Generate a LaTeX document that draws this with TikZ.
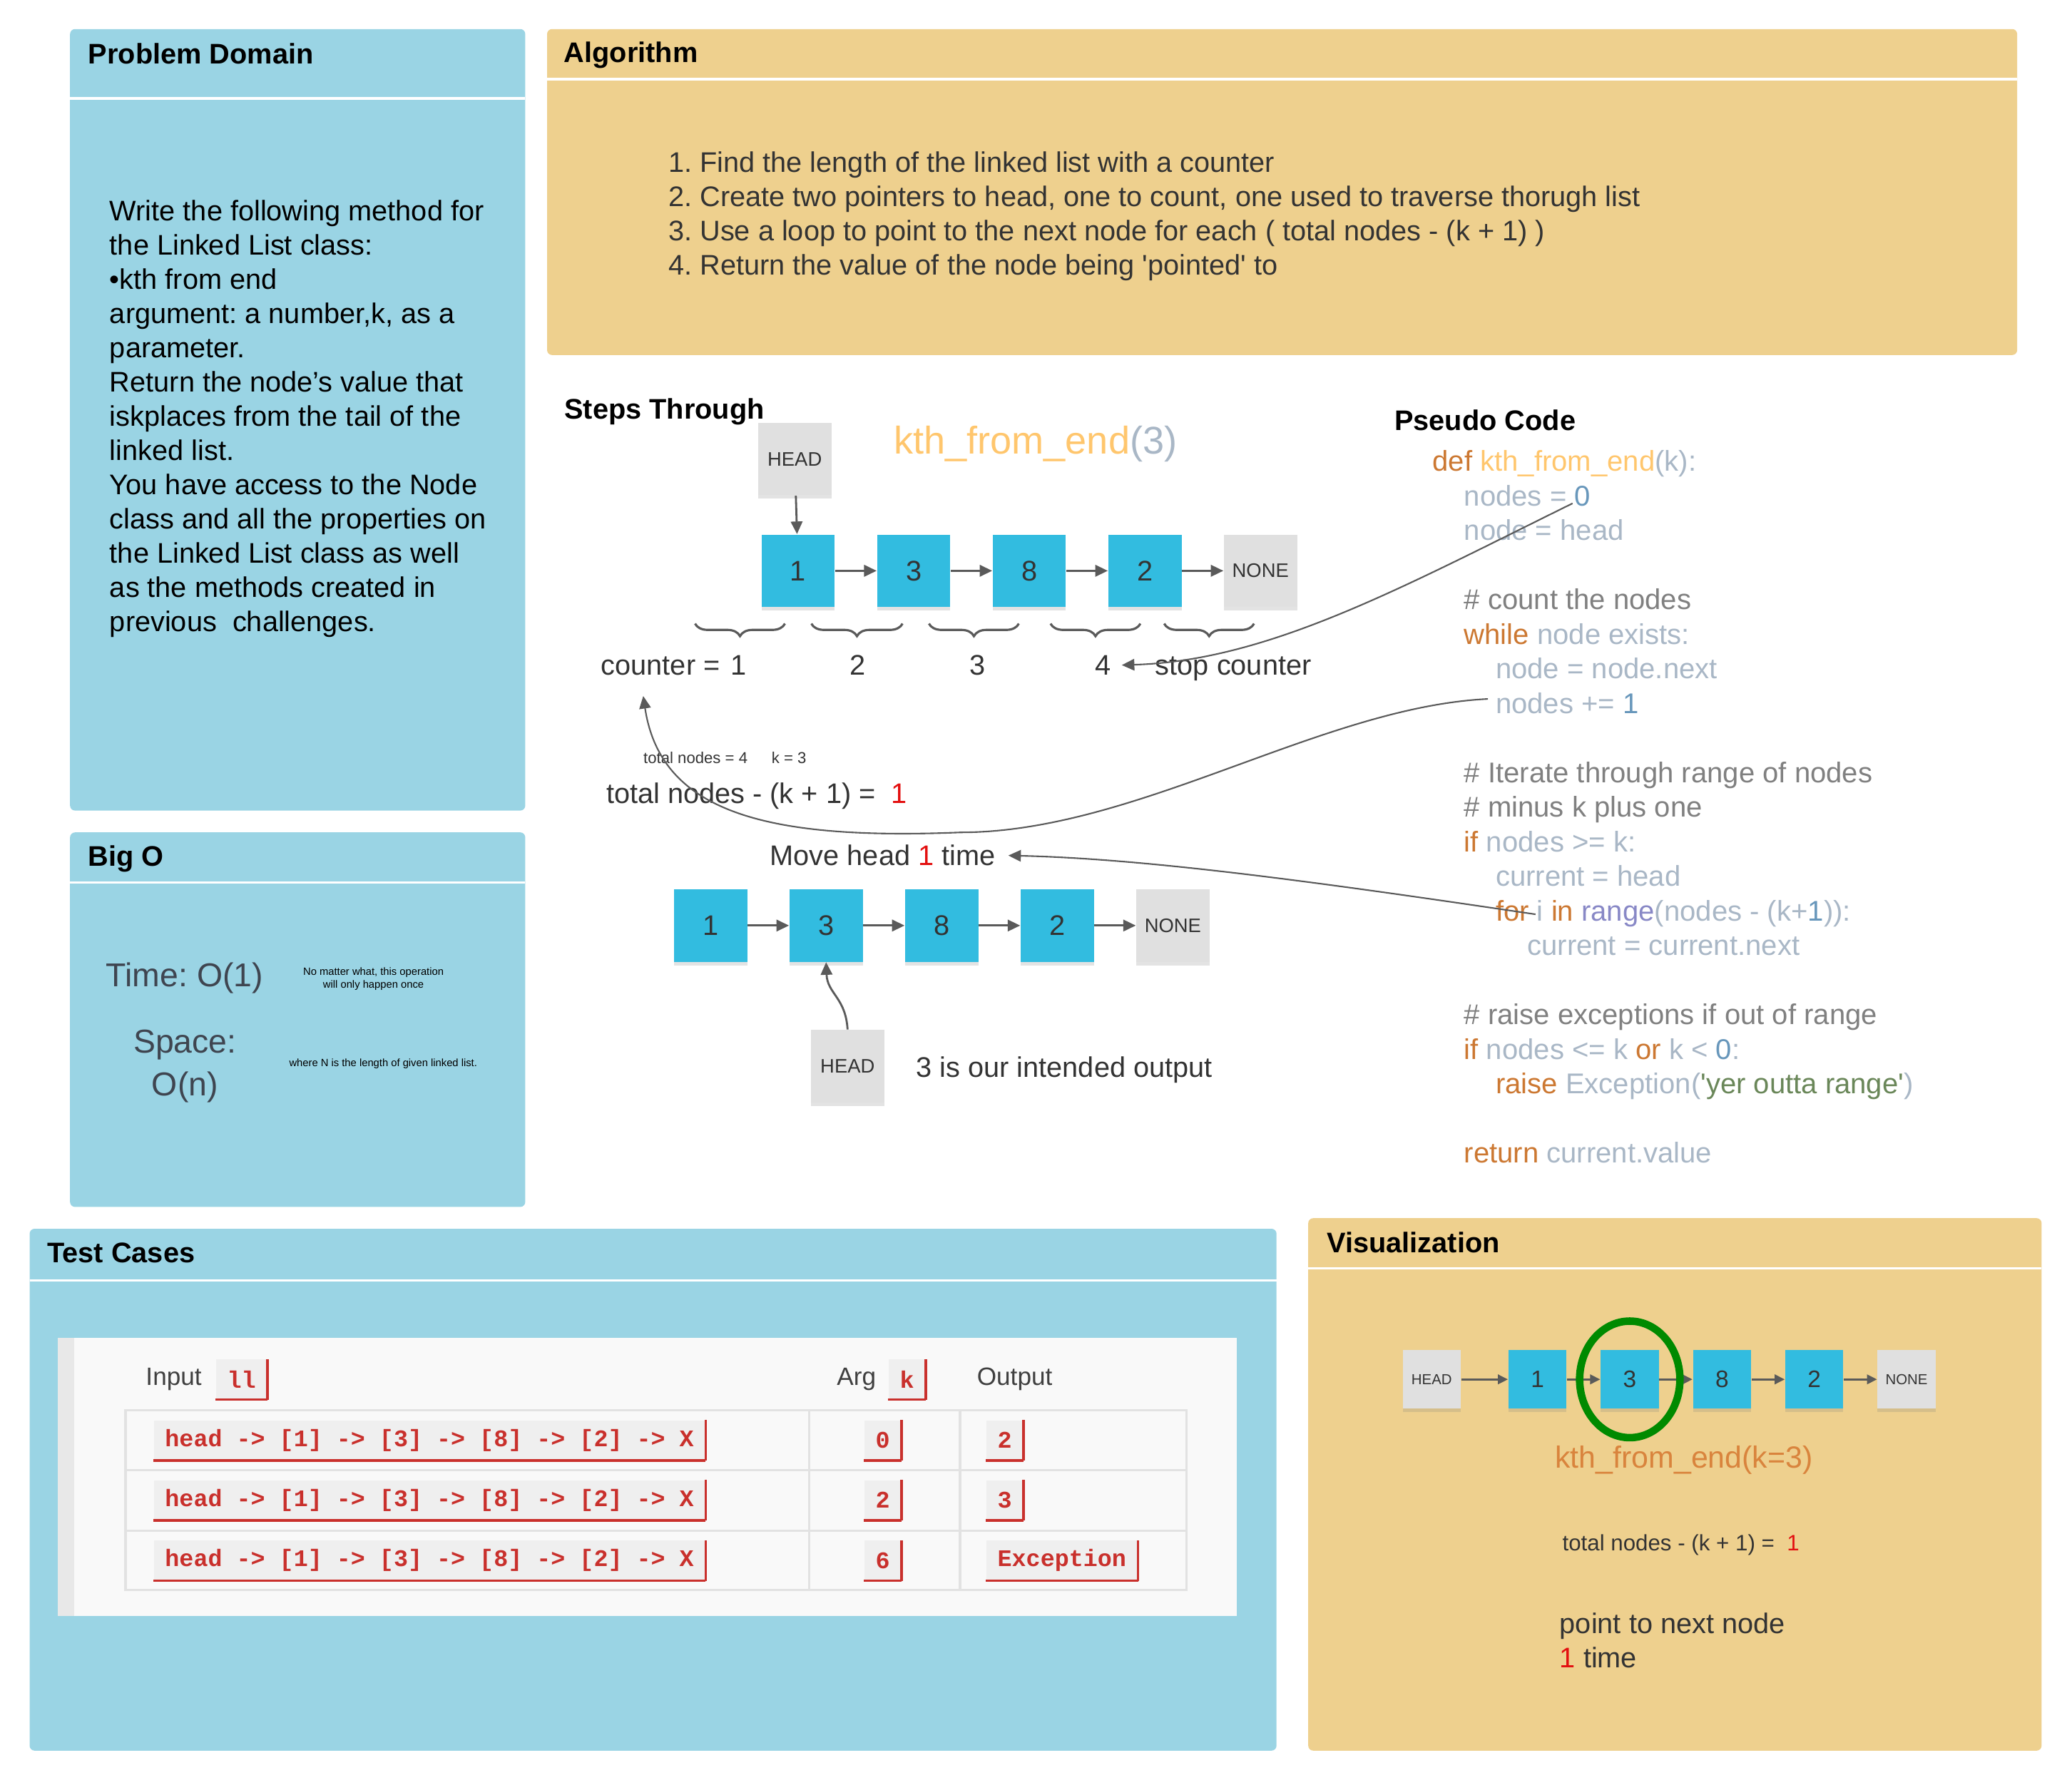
\documentclass[tikz,border=0pt]{standalone}
\usepackage{fontspec}
\setmainfont{Liberation Sans}
\setmonofont{Liberation Mono}
\usetikzlibrary{arrows.meta,positioning,shadows,shapes.geometric,decorations.pathreplacing}

\definecolor{panelblue}{HTML}{9AD4E4}
\definecolor{panelsand}{HTML}{EED08E}
\definecolor{listcyan}{HTML}{32BCE0}
\definecolor{boxgray}{HTML}{E0E0E0}
\definecolor{inkdark}{HTML}{333333}
\definecolor{slateink}{HTML}{3F4550}
\definecolor{wireg}{HTML}{5A5A5A}
\definecolor{alarmred}{HTML}{E31010}
\definecolor{pykw}{HTML}{CC7832}
\definecolor{pyfn}{HTML}{FFC66D}
\definecolor{pyid}{HTML}{A9B7C6}
\definecolor{pynum}{HTML}{6897BB}
\definecolor{pycmt}{HTML}{808080}
\definecolor{pystr}{HTML}{6A8759}
\definecolor{pybuiltin}{HTML}{8888C6}
\definecolor{codered}{HTML}{C9302C}
\definecolor{codebg}{HTML}{EFEFEF}
\definecolor{tablebg}{HTML}{F9F9F9}
\definecolor{gridgray}{HTML}{E2E2E2}
\definecolor{vizorange}{HTML}{D9843D}
\definecolor{ringgreen}{HTML}{008A00}

\newcommand{\setfs}[2]{\fontsize{#1}{#2}\selectfont}
\newcommand{\pkw}[1]{\textcolor{pykw}{#1}}
\newcommand{\pfn}[1]{\textcolor{pyfn}{#1}}
\newcommand{\pid}[1]{\textcolor{pyid}{#1}}
\newcommand{\pnum}[1]{\textcolor{pynum}{#1}}
\newcommand{\pcmt}[1]{\textcolor{pycmt}{#1}}
\newcommand{\pstr}[1]{\textcolor{pystr}{#1}}
\newcommand{\pbi}[1]{\textcolor{pybuiltin}{#1}}
\newcommand{\pind}{\hspace*{12.6pt}}
\frenchspacing

\begin{document}
\begin{tikzpicture}[x=0.018527cm,y=-0.018527cm,on grid,node distance=46.1pt,
every node/.style={inner sep=0pt,text=inkdark},
listcell/.style={fill=listcyan,minimum width=29.2pt,minimum height=28.9pt,font=\setfs{11.3}{13},
                 drop shadow={shadow xshift=0pt,shadow yshift=-1.4pt,opacity=.22}},
stubcell/.style={listcell,fill=boxgray,font=\setfs{7.8}{9}},
vizcell/.style={listcell,minimum width=23.2pt,minimum height=23.2pt,font=\setfs{9.5}{11}},
vizstub/.style={vizcell,fill=boxgray,font=\setfs{5.8}{7}},
heading/.style={anchor=base west,text=black,font=\setfs{11.3}{13}\bfseries},
prose/.style={anchor=west,font=\setfs{11.3}{13.7}},
chip/.style={fill=codebg,text=codered,inner xsep=4.5pt,minimum height=15.8pt,
             font=\setfs{9.5}{11}\ttfamily\bfseries,
             append after command={(\tikzlastnode.south west) edge[chipedge] (\tikzlastnode.south east)
                                   (\tikzlastnode.south east) edge[chipedge] (\tikzlastnode.north east)}},
chipedge/.style={draw=codered,line width=1pt},
ring/.style={ellipse,draw=ringgreen,line width=3pt,minimum width=40pt,minimum height=46.5pt}]

\tikzset{link/.style={draw=wireg,line width=.8pt,-{Triangle[length=5pt,width=4.6pt]}},
         vlink/.style={link,-{Triangle[length=4pt,width=3.8pt]}},
         wire/.style={draw=wireg,line width=.6pt,-{Triangle[length=5pt,width=4.6pt]}},
         bracket/.style={draw=wireg,line width=.9pt,decorate,decoration={brace,mirror,amplitude=5pt}},
         board/.style={rounded corners=2pt},
         rule/.style={white,line width=1pt},
         gridline/.style={draw=gridgray,line width=.9pt}}

\useasboundingbox (0,0) rectangle (1568,1347);

\fill[panelblue,board] (53,22) rectangle (397.5,613.5);
\draw[rule] (53,74.4) -- (397.5,74.4);
\fill[panelsand,board] (414,22) rectangle (1526.5,268.7);
\draw[rule] (414,60) -- (1526.5,60);
\fill[panelblue,board] (53,630) rectangle (397.5,913.5);
\draw[rule] (53,668) -- (397.5,668);
\fill[panelblue,board] (22.4,930) rectangle (966,1325);
\draw[rule] (22.4,969) -- (966,969);
\fill[panelsand,board] (990,922) rectangle (1545,1325);
\draw[rule] (990,960) -- (1545,960);

\node[heading] (pdtitle) at (66.5,48.2) {Problem Domain};
\node[heading] (algtitle) at (426.5,47.2) {Algorithm};
\node[heading] (bigtitle) at (66.5,655.4) {Big O};
\node[heading] (testtitle) at (35.5,955.8) {Test Cases};
\node[heading] (viztitle) at (1003.9,947.9) {Visualization};
\node[heading] (steptitle) at (426.8,317) {Steps Through};
\node[heading] (codetitle) at (1055,326) {Pseudo Code};

\node[prose,anchor=north west,align=left,text=black,font=\setfs{11.3}{13.65}] (pdtext) at (82.7,151)
  {Write the following method for\\the Linked List class:\\•kth from end\\argument: a number,k, as a\\parameter.\\Return the node’s value that\\iskplaces from the tail of the\\linked list.\\You have access to the Node\\class and all the properties on\\the Linked List class as well\\as the methods created in\\previous\ \ challenges.};

\node[prose,anchor=north west,align=left] (algtext) at (505.5,114.3)
  {1. Find the length of the linked list with a counter\\2. Create two pointers to head, one to count, one used to traverse thorugh list\\3. Use a loop to point to the next node for each ( total nodes - (k + 1) )\\4. Return the value of the node being \textquotesingle pointed\textquotesingle\ to};

\node[anchor=west,font=\setfs{13.2}{16},text=slateink] (timecost) at (80,740) {Time: O(1)};
\node[align=center,font=\setfs{4.2}{5.3},text=black] (timenote) at (282.6,741) {No matter what, this operation\\will only happen once};
\node[align=center,font=\setfs{13.2}{16.9},text=slateink] (spacecost) at (140,807) {Space:\\O(n)};
\node[font=\setfs{4.2}{5.3},text=black] (spacenote) at (290,805) {where N is the length of given linked list.};

\node[stubcell] (h1) at (601.4,347.4) {HEAD};
\node[anchor=west,font=\setfs{15.4}{18}] (callsig) at (676,335.8) {\textcolor{pyfn}{kth\_from\_end}\textcolor{pyid}{(3)}};
\node[listcell] (a1) at (604,432) {1};
\node[listcell,right=of a1] (a3) {3};
\node[listcell,right=of a3] (a8) {8};
\node[listcell,right=of a8] (a2) {2};
\node[stubcell,right=of a2] (anone) {NONE};
\draw[link] (h1) -- (a1);
\draw[link] (a1) -- (a3);
\draw[link] (a3) -- (a8);
\draw[link] (a8) -- (a2);
\draw[link] (a2) -- (anone);

\draw[bracket] (526,472) -- (594,472);
\draw[bracket] (614,472) -- (683,472);
\draw[bracket] (703,472) -- (771,472);
\draw[bracket] (795,472) -- (863,472);
\draw[bracket] (881,472) -- (949,472);

\node[prose,anchor=base west] (cnt) at (454.5,511) {counter =};
\node[prose,anchor=base] (cnt1) at (559,511) {1};
\node[prose,anchor=base] (cnt2) at (649,511) {2};
\node[prose,anchor=base] (cnt3) at (739.6,511) {3};
\node[prose,anchor=base] (cnt4) at (835,511) {4};
\node[prose,anchor=base west] (stopcnt) at (874,511) {stop counter};

\node[anchor=west,font=\setfs{6.3}{7.5}] (tally) at (486.6,573.7) {total nodes = 4\hspace{9.6pt}k = 3};
\node[prose] (formula) at (458.5,602.3) {total nodes - (k + 1) =\ \ \textcolor{alarmred}{1}};
\node[prose] (movehead) at (582.4,647.5) {Move head \textcolor{alarmred}{1} time};

\node[listcell] (b1) at (537.7,700.5) {1};
\node[listcell,right=of b1] (b3) {3};
\node[listcell,right=of b3] (b8) {8};
\node[listcell,right=of b8] (b2) {2};
\node[stubcell,right=of b2] (bnone) {NONE};
\node[stubcell] (h2) at (641.4,807) {HEAD};
\node[prose] (outcome) at (693,810) {3 is our intended output};
\draw[link] (b1) -- (b3);
\draw[link] (b3) -- (b8);
\draw[link] (b8) -- (b2);
\draw[link] (b2) -- (bnone);
\draw[link] (h2.north) .. controls (640,755) and (626,752) .. (b3.south);

\node[anchor=north west,align=left,font=\setfs{11.4}{13.8},text=pyid] (pseudo) at (1083.7,340.6)
  {\pkw{def} \pfn{kth\_from\_end}\pid{(k):}\\
   \pind\pid{nodes = }\pnum{0}\\
   \pind\pid{node = head}\\[13.8pt]
   \pind\pcmt{\# count the nodes}\\
   \pind\pkw{while} \pid{node exists:}\\
   \pind\pind\pid{node = node.next}\\
   \pind\pind\pid{nodes += }\pnum{1}\\[13.8pt]
   \pind\pcmt{\# Iterate through range of nodes}\\
   \pind\pcmt{\# minus k plus one}\\
   \pind\pkw{if} \pid{nodes >= k:}\\
   \pind\pind\pid{current = head}\\
   \pind\pind\pkw{for} \pid{i} \pkw{in} \pbi{range}\pid{(nodes - (k+}\pnum{1}\pid{)):}\\
   \pind\pind\pind\pid{current = current.next}\\[13.8pt]
   \pind\pcmt{\# raise exceptions if out of range}\\
   \pind\pkw{if} \pid{nodes <= k} \pkw{or} \pid{k < }\pnum{0}\pid{:}\\
   \pind\pind\pkw{raise} \pid{Exception(}\pstr{\textquotesingle yer outta range\textquotesingle}\pid{)}\\[13.8pt]
   \pind\pkw{return} \pid{current.value}};

\coordinate (zeroref) at (1190,381);
\coordinate (incref) at (1126,529);
\coordinate (loopref) at (1162,692);
\draw[wire,shorten >=4pt] (zeroref) .. controls (1060,445) and (960,500) .. (cnt4.east);
\draw[wire] (incref) .. controls (1000,535) and (860,630) .. (727,630)
            .. controls (580,636) and (500,615) .. ([xshift=17pt,yshift=-8pt]cnt.south west);
\draw[wire] (loopref) .. controls (1000,668) and (870,650) .. ([xshift=5pt]movehead.east);

\fill[tablebg] (43.6,1012.5) rectangle (936,1223);
\fill[black!9] (43.6,1012.5) rectangle (56,1223);
\draw[gridline] (95,1067.5) rectangle (898,1203.5);
\draw[gridline] (95,1112.5) -- (898,1112.5) (95,1158.5) -- (898,1158.5)
                (612.5,1067.5) -- (612.5,1203.5) (726.5,1067.5) -- (726.5,1203.5);
\node[anchor=west,font=\setfs{10}{12},text=black!75] (colin) at (110,1044) {Input};
\node[chip,anchor=west] (llchip) at (163,1044) {ll};
\node[anchor=west,font=\setfs{10}{12},text=black!75] (colarg) at (633,1044) {Arg};
\node[chip,anchor=west] (kchip) at (672,1044) {k};
\node[anchor=west,font=\setfs{10}{12},text=black!75] (colout) at (739,1044) {Output};
\node[chip,anchor=west] (in1) at (116,1090) {head -> [1] -> [3] -> [8] -> [2] -> X};
\node[chip,anchor=west] (in2) at (116,1135.5) {head -> [1] -> [3] -> [8] -> [2] -> X};
\node[chip,anchor=west] (in3) at (116,1181) {head -> [1] -> [3] -> [8] -> [2] -> X};
\node[chip] (arg1) at (668,1090) {0};
\node[chip] (arg2) at (668,1135.5) {2};
\node[chip] (arg3) at (668,1181) {6};
\node[chip,anchor=west] (out1) at (746,1090) {2};
\node[chip,anchor=west] (out2) at (746,1135.5) {3};
\node[chip,anchor=west] (out3) at (746,1181) {Exception};

\begin{scope}[node distance=36.8pt]
\node[vizcell] (v1) at (1163.5,1044) {1};
\node[vizcell,right=of v1] (v3) {3};
\node[vizcell,right=of v3] (v8) {8};
\node[vizcell,right=of v8] (v2) {2};
\node[vizstub,right=of v2] (vnone) {NONE};
\node[vizstub,left=42.2pt of v1] (vhead) {HEAD};
\end{scope}
\draw[vlink] (vhead) -- (v1);
\draw[vlink] (v1) -- (v3);
\draw[vlink] (v3) -- (v8);
\draw[vlink] (v8) -- (v2);
\draw[vlink] (v2) -- (vnone);
\node[ring] (pick) at (v3) {};
\node[font=\setfs{12.2}{14},text=vizorange] (vizcall) at (1274.3,1105) {kth\_from\_end(k=3)};
\node[anchor=west,font=\setfs{8.9}{10.5}] (vizformula) at (1182,1169.5) {total nodes - (k + 1) =\ \ \textcolor{alarmred}{1}};
\node[anchor=north west,align=left,font=\setfs{11.3}{13.7}] (vizstep) at (1180,1220.5) {point to next node\\\textcolor{alarmred}{1} time};
\end{tikzpicture}
\end{document}
